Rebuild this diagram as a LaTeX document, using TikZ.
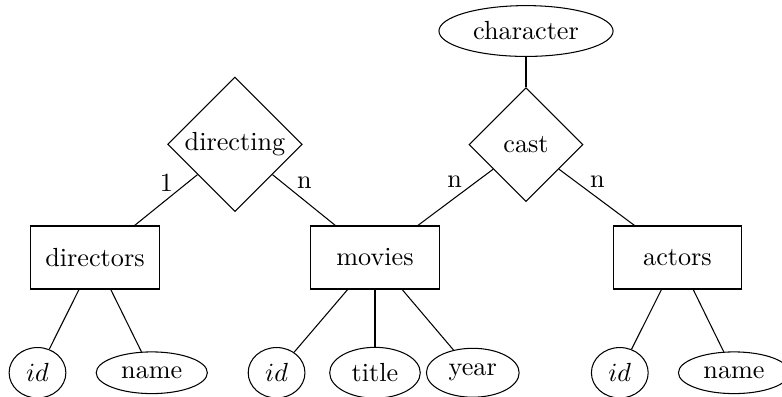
\documentclass[tikz,border=0pt]{standalone}
\usepackage{amsmath}
\usepackage{xcolor}
\usepackage{tikz}
\usetikzlibrary{shapes.geometric}
\newcommand*{\entY}{-3.454}
\newcommand*{\attrY}{-5.0}
\tikzset{
  entity/.style={draw, rectangle, minimum width=1.72cm, minimum height=0.845cm},
  relation/.style={draw, diamond, aspect=1, inner sep=1pt, minimum size=1.53cm},
  attribute/.style={draw, ellipse},
}

\begin{document}
\begin{tikzpicture}
    \useasboundingbox (0,0) rectangle (10.49,-5.312);

    \node [entity] (directors) at (1.274,\entY) {directors};
    \node [entity] (movies) at (5.030,\entY) {movies};
    \node [entity] (actors) at (9.088,\entY) {actors};

    \node [relation] (directing) at (3.152,-1.936) {directing};
    \node [relation] (cast) at (7.056,-1.94) {cast};
    \node [attribute] (character) at (7.056,-0.416) {character};

    \node [attribute] (dirid) at (0.503,\attrY) {$id$};
    \node [attribute] (dirname) at (2.036,\attrY) {name};
    \node [attribute] (movid) at (3.710,\attrY) {$id$};
    \node [attribute] (movtitle) at (5.030,\attrY) {title};
    \node [attribute] (movyear) at (6.342,\attrY) {year};
    \node [attribute] (actid) at (8.314,\attrY) {$id$};
    \node [attribute] (actname) at (9.846,\attrY) {name};

    \draw (directing) -- node [pos=0.16, left=2pt] {1} (directors);
    \draw (directing) -- node [pos=0.16, right=2pt] {n} (movies);
    \draw (cast) -- node [pos=0.22, left=2pt] {n} (movies);
    \draw (cast) -- node [pos=0.22, right=2pt] {n} (actors);
    \draw (character) -- (cast);

    \foreach \e/\a in {directors/dirid, directors/dirname, movies/movid,
                       movies/movtitle, movies/movyear, actors/actid, actors/actname} {
      \draw (\e) -- (\a);
    }
\end{tikzpicture}
\end{document}
